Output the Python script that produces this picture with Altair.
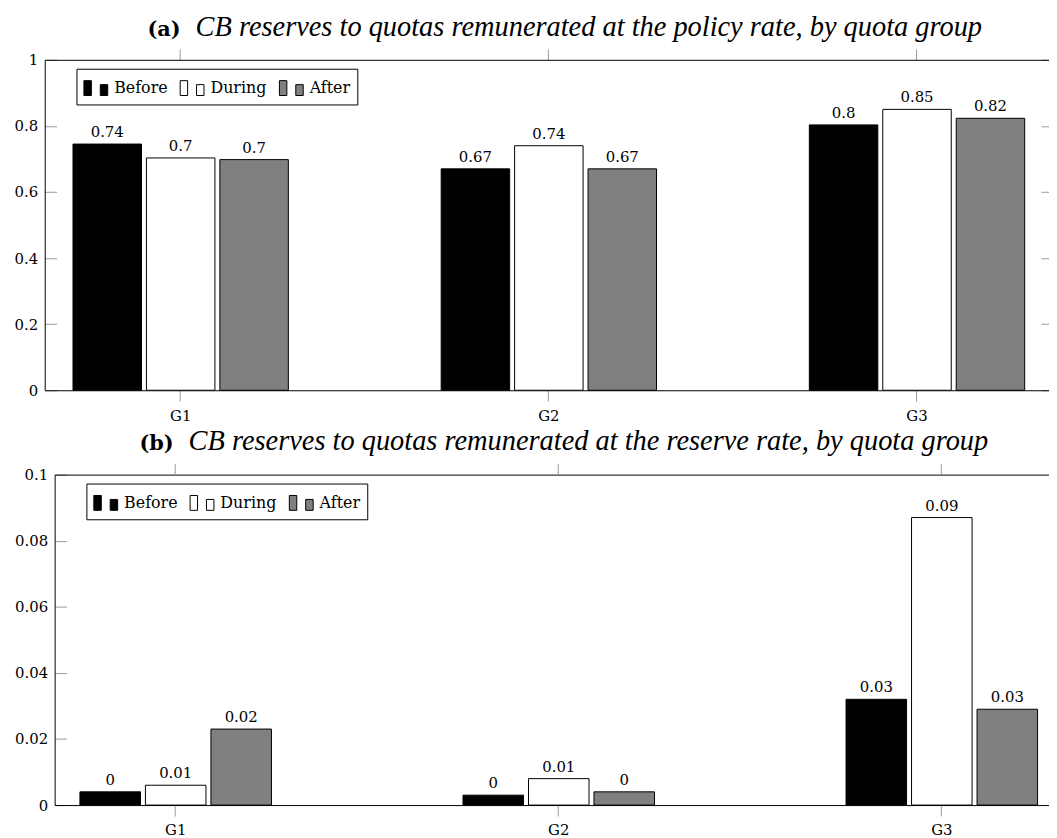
import altair as alt
import pandas as pd

groups = ["G1", "G2", "G3"]
periods = ["Before", "During", "After"]
period_colors = ["#000000", "#ffffff", "#808080"]

policy_before = [0.745, 0.670, 0.803]
policy_during = [0.703, 0.740, 0.850]
policy_after = [0.698, 0.670, 0.823]

reserve_before = [0.004, 0.003, 0.032]
reserve_during = [0.006, 0.008, 0.087]
reserve_after = [0.023, 0.004, 0.029]

title_a_tag = "(a)"
title_a_text = "CB reserves to quotas remunerated at the policy rate, by quota group"
title_b_tag = "(b)"
title_b_text = "CB reserves to quotas remunerated at the reserve rate, by quota group"

FONT = "DejaVu Serif"
TITLE_FONT = "Liberation Serif"
LEGEND_PATH = "M-1,-0.625H-0.375V0.625H-1Z M0.375,-0.29H1V0.625H0.375Z"
TICK = "#999999"


def panel(before, during, after, ymax, ystep, W, H, inner, outer, align,
          off_inner, tag, text, tag_x, text_x, title_y, title_size,
          shift, legend_x):
    df = pd.DataFrame({
        "group": groups * 3,
        "period": [p for p in periods for _ in groups],
        "value": before + during + after,
    })
    xscale = alt.Scale(domain=groups, paddingInner=inner, paddingOuter=outer,
                       align=align, round=False)
    offscale = alt.Scale(domain=periods, paddingInner=off_inner, paddingOuter=0,
                         round=False)
    yscale = alt.Scale(domain=[0, ymax], nice=False, zero=True)
    yvals = [round(i * ystep, 4) for i in range(int(round(ymax / ystep)) + 1)]
    framed = shift == 0

    left_dash = [12, 4000] if framed else [0, shift, 12, 4000]
    bars = alt.Chart(df).mark_bar(stroke="black", strokeWidth=1).encode(
        x=alt.X("group:N", scale=xscale, sort=groups, title=None,
                axis=alt.Axis(orient="bottom", domain=framed, domainColor="black",
                              domainWidth=1, ticks=True, tickSize=11, tickColor=TICK,
                              labelFont=FONT, labelFontSize=15, labelColor="black",
                              labelPadding=7, labelAngle=0, grid=False)),
        xOffset=alt.XOffset("period:N", scale=offscale, sort=periods),
        y=alt.Y("value:Q", scale=yscale, title=None,
                axis=alt.Axis(orient="left", values=yvals, format=".2~f",
                              offset=-shift,
                              domain=True, domainColor="black", domainWidth=1,
                              ticks=False, labelPadding=7, labelFont=FONT,
                              labelFontSize=15, labelColor="black",
                              grid=True, gridDash=left_dash, gridColor=TICK,
                              gridWidth=1)),
        fill=alt.Fill("period:N", sort=periods,
                      scale=alt.Scale(domain=periods, range=period_colors),
                      legend=alt.Legend(orient="none", legendX=legend_x, legendY=9,
                                        direction="horizontal", title=None,
                                        symbolType=LEGEND_PATH, symbolSize=576,
                                        symbolStrokeColor="black", symbolStrokeWidth=1,
                                        labelFont=FONT, labelFontSize=16,
                                        labelColor="black", labelOffset=6,
                                        columnPadding=10, padding=7,
                                        strokeColor="black", fillColor="white")),
    )

    if framed:
        yaxis_right = alt.Axis(orient="right", values=yvals, labels=False, domain=False,
                               ticks=False, grid=True, gridDash=[8, 4000],
                               gridColor=TICK, gridWidth=1)
    else:
        yaxis_right = alt.Axis(orient="right", values=[0, ymax], labels=False,
                               domain=False, ticks=False, grid=True,
                               gridDash=[W - shift, 4000], gridColor="black",
                               gridWidth=1)

    labels = alt.Chart(df).mark_text(font=FONT, fontSize=15, baseline="alphabetic",
                                     dy=-7, color="black").encode(
        x=alt.X("group:N", scale=xscale, sort=groups, title=None,
                axis=alt.Axis(orient="top", domain=framed, domainColor="black",
                              domainWidth=1, ticks=True, tickSize=11,
                              tickColor=TICK, labels=False, grid=False)),
        xOffset=alt.XOffset("period:N", scale=offscale, sort=periods),
        y=alt.Y("value:Q", scale=yscale, title=None, axis=yaxis_right),
        text=alt.Text("value:Q", format=".2~f"),
    )

    tag_mark = alt.Chart(pd.DataFrame({"t": [tag]})).mark_text(
        font=FONT, fontWeight="bold", fontSize=21, align="right",
        baseline="alphabetic", color="black").encode(
        text="t:N", x=alt.value(tag_x), y=alt.value(title_y))
    text_mark = alt.Chart(pd.DataFrame({"t": [text]})).mark_text(
        font=TITLE_FONT, fontStyle="italic", fontSize=title_size, align="left",
        baseline="alphabetic", color="black").encode(
        text="t:N", x=alt.value(text_x), y=alt.value(title_y))

    return alt.layer(bars, labels, tag_mark, text_mark).properties(width=W, height=H)


chart_a = panel(policy_before, policy_during, policy_after, 1.0, 0.2,
                1012, 333, 0.41509, 0.071425, 0.5377, 0.06757,
                title_a_tag, title_a_text, 137, 152, -24, 28.6, 0, 32)
chart_b = panel(reserve_before, reserve_during, reserve_after, 0.1, 0.02,
                1012, 333, 0.5, 0.06088, 0.755, 0.0758,
                title_b_tag, title_b_text, 130, 145, -25, 28.6, 10, 42)

chart = alt.vconcat(chart_a, chart_b, spacing=4).resolve_scale(
    fill="independent", x="independent", y="independent", xOffset="independent"
).resolve_legend(fill="independent").configure_view(stroke=None).properties(
    padding={"left": 6, "top": 2, "right": 0, "bottom": 0}
)

chart.save("out.html", embed_options={"renderer": "svg", "actions": False})
